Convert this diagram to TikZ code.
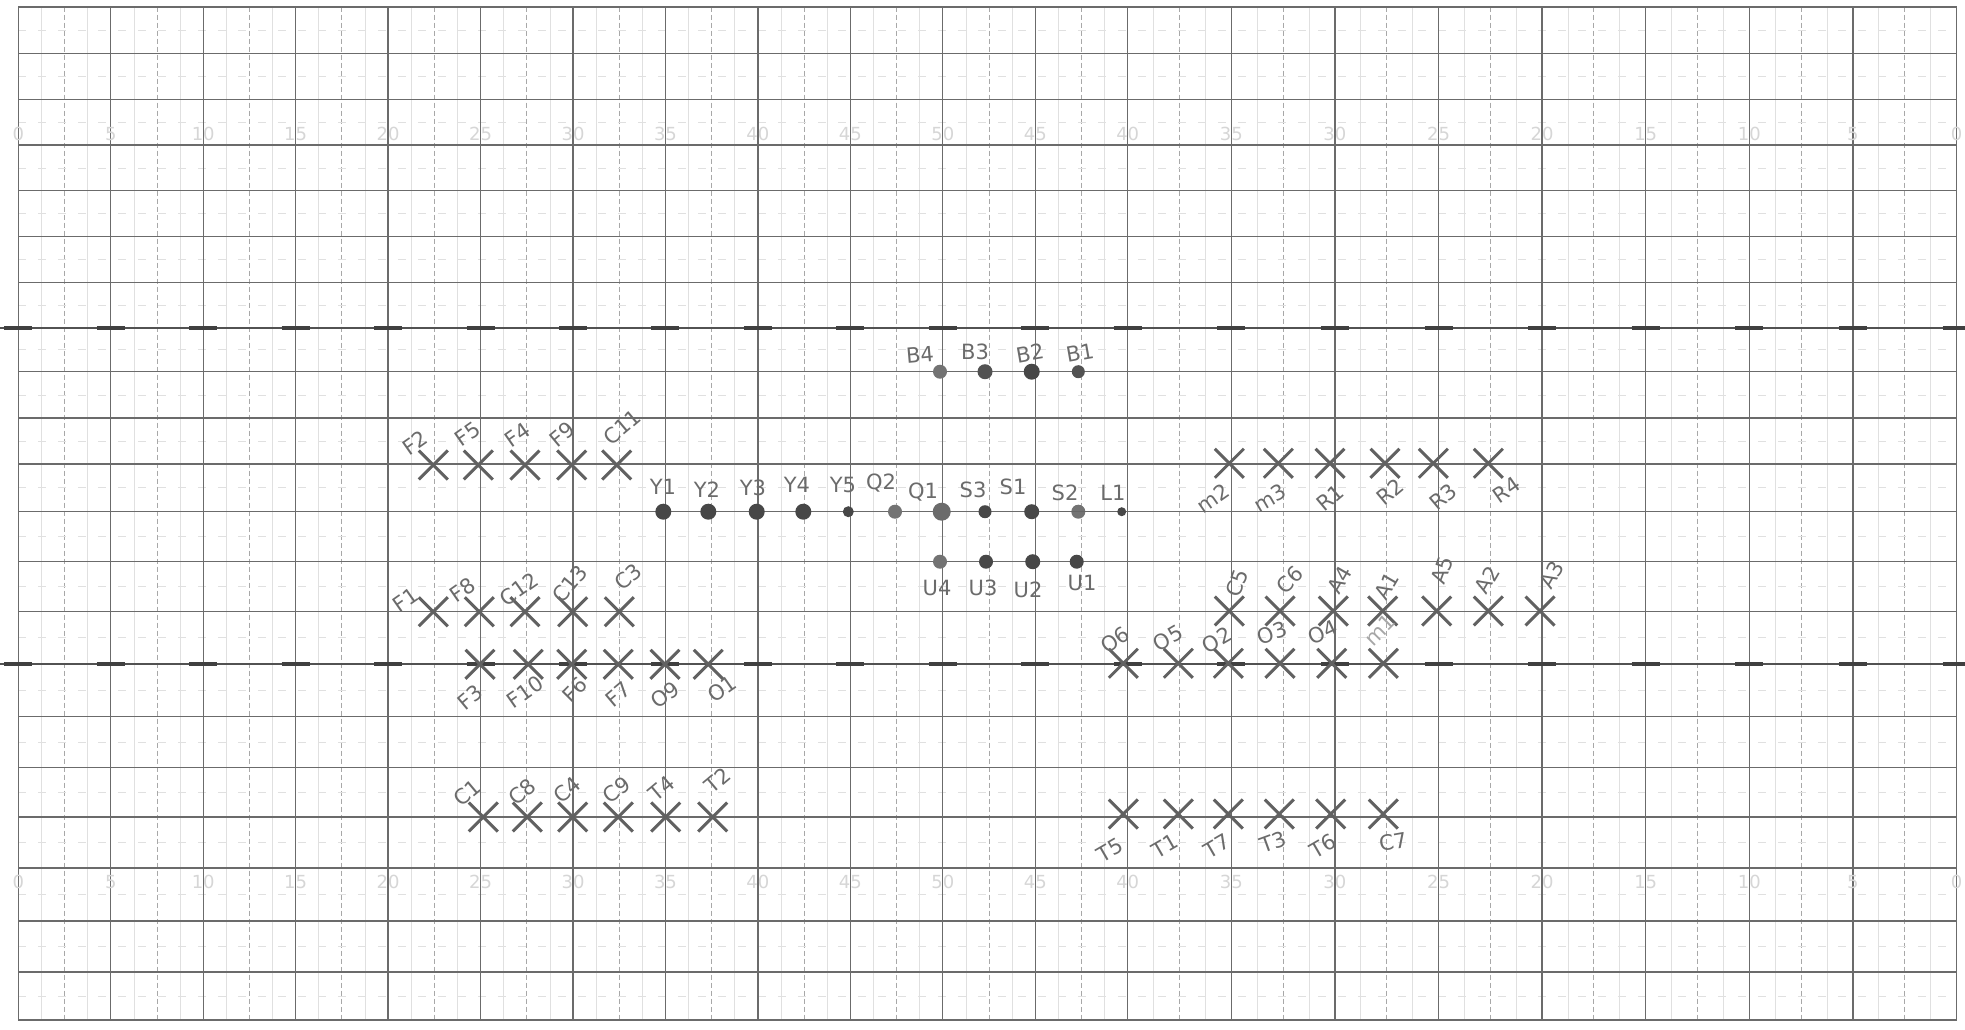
\documentclass[tikz,border=0pt]{standalone}
\usepackage{fontspec}
\setmainfont{DejaVu Sans}
\usetikzlibrary{shapes.misc}
\newcommand{\Xpt}[7]{\node[xmk] (#1) at (#2,#3) {}; \node[lbl,rotate=#7] (#1l) at (#5,#6) {#4};}
\newcommand{\Dpt}[9]{\node[dotmk=#8,fill=#9] (#1) at (#2,#3) {}; \node[lbl,rotate=#7] (#1l) at (#5,#6) {#4};}
\begin{document}
\begin{tikzpicture}[x=1pt,y=-1pt,
  gmajor/.style={draw=black!58,line width=1.3pt},
  ghalf/.style={draw=black!34,line width=0.9pt,dash pattern=on 5pt off 3pt},
  gquart/.style={draw=black!12,line width=0.7pt},
  ghmid/.style={draw=black!12,line width=0.7pt,dash pattern=on 8pt off 12pt},
  gheavy/.style={draw=black!68,line width=1.6pt},
  gtick/.style={draw=black!75,line width=4pt},
  scalenum/.style={text=black!16,font=\fontsize{18}{18}\selectfont,inner sep=0pt},
  xmk/.style={cross out,draw=black!62,line width=3pt,minimum size=26pt,inner sep=0pt},
  dotmk/.style={circle,inner sep=0pt,minimum size=#1},
  lbl/.style={text=black!58,font=\fontsize{21}{21}\selectfont,inner sep=0pt}]
\useasboundingbox (0,0) rectangle (1965,1029);
\fill[white] (0,0) rectangle (1965,1029);
% quarter and half vertical lines
\foreach \k in {0,...,19}{
  \pgfmathsetmacro\xa{\k<12 ? 18.3+92.45*\k : 1127.7+103.6*(\k-12)}
  \pgfmathsetmacro\w{\k<12 ? 92.45 : 103.6}
  \pgfmathsetmacro\qa{\xa+0.25*\w}
  \pgfmathsetmacro\qb{\xa+0.5*\w}
  \pgfmathsetmacro\qc{\xa+0.75*\w}
  \draw[gquart] (\qa,6.7) -- (\qa,1020);
  \draw[gquart] (\qc,6.7) -- (\qc,1020);
  \draw[ghalf] (\qb,6.7) -- (\qb,1020);
}
% half horizontal lines
\foreach \a/\b in {6.7/53.3,53.3/99.3,99.3/145,145/190.7,190.7/236.7,236.7/282.3,282.3/327.7,327.7/371.7,371.7/418,418/464,464/511.5,511.5/561.5,561.5/611.5,611.5/664,664/716.7,716.7/767.7,767.7/817,817/868,868/921,921/972,972/1020}{
  \pgfmathsetmacro\m{(\a+\b)/2}
  \draw[ghmid] (18.3,\m) -- (1956.5,\m);
}
% major horizontal lines
\foreach \y in {53.3,99.3,145,190.7,236.7,282.3,371.7,418,464,511.5,561.5,611.5,716.7,767.7,817,868,921,972}{
  \draw[gmajor] (18.3,\y) -- (1956.5,\y);
}
% major vertical lines
\foreach \k in {1,...,19}{
  \pgfmathsetmacro\xa{\k<12 ? 18.3+92.45*\k : 1127.7+103.6*(\k-12)}
  \draw[gmajor] (\xa,6.7) -- (\xa,1020);
}
\draw[gmajor,line width=1.6pt] (18.3,6.7) rectangle (1956.5,1020);
% heavy lines with ticks
\foreach \y in {327.7,664}{
  \draw[gheavy] (0,\y) -- (1965,\y);
  \foreach \k in {0,...,20}{
    \pgfmathsetmacro\xa{\k<12 ? 18.3+92.45*\k : 1127.7+103.6*(\k-12)}
    \draw[gtick] (\xa-14,\y) -- (\xa+14,\y);
  }
}
% faint scale numbers
\foreach \k/\n in {0/0,1/5,2/10,3/15,4/20,5/25,6/30,7/35,8/40,9/45,10/50,11/45,12/40,13/35,14/30,15/25,16/20,17/15,18/10,19/5,20/0}{
  \pgfmathsetmacro\xa{\k<12 ? 18.3+92.45*\k : 1127.7+103.6*(\k-12)}
  \node[scalenum] (nt\k) at (\xa,134) {\n};
  \node[scalenum] (nb\k) at (\xa,882) {\n};
}
% left group, row 1
\Xpt{F2}{433.3}{465}{F2}{415}{443}{35}
\Xpt{F5}{478.3}{465}{F5}{468}{434}{35}
\Xpt{F4}{525}{465}{F4}{518}{435}{35}
\Xpt{F9}{571.7}{465}{F9}{562}{434}{40}
\Xpt{C11}{616.7}{465}{C11}{622}{427}{40}
% row 2
\Xpt{F1}{433.3}{611.7}{F1}{406}{600}{35}
\Xpt{F8}{479.3}{611.7}{F8}{463}{590}{35}
\Xpt{C12}{525}{611.7}{C12}{519}{589}{35}
\Xpt{C13}{572.7}{611.7}{C13}{570}{584}{50}
\Xpt{C3}{619.3}{611.7}{C3}{628}{577}{40}
% row 3
\Xpt{F3}{480}{664.3}{F3}{470}{697}{40}
\Xpt{F10}{528.3}{664.3}{F10}{525}{692}{35}
\Xpt{F6}{571.7}{664.3}{F6}{575}{690}{45}
\Xpt{F7}{618.3}{664.3}{F7}{618}{694}{40}
\Xpt{O9}{665}{664.3}{O9}{665}{695}{35}
\Xpt{O1}{708.3}{664.3}{O1}{722}{689}{35}
% C row
\Xpt{C1}{483.3}{817}{C1}{467}{793}{40}
\Xpt{C8}{527.3}{817}{C8}{522}{792}{40}
\Xpt{C4}{572.7}{817}{C4}{567}{790}{40}
\Xpt{C9}{618.3}{817}{C9}{617}{790}{35}
\Xpt{T4}{665.7}{817}{T4}{662}{788}{40}
\Xpt{T2}{712.7}{817}{T2}{718}{780}{40}
% B row dots
\Dpt{B4}{940}{371.7}{B4}{920}{355}{5}{14pt}{black!55}
\Dpt{B3}{985}{371.7}{B3}{975}{352}{0}{15pt}{black!68}
\Dpt{B2}{1031.7}{371.7}{B2}{1030}{353}{10}{16pt}{black!72}
\Dpt{B1}{1078.3}{371.7}{B1}{1080}{353}{10}{13pt}{black!68}
% Y row dots
\Dpt{Y1}{663.3}{511.7}{Y1}{663}{487}{0}{16pt}{black!72}
\Dpt{Y2}{708.3}{511.7}{Y2}{707}{490}{0}{16pt}{black!72}
\Dpt{Y3}{756.7}{511.7}{Y3}{753}{488}{0}{16pt}{black!72}
\Dpt{Y4}{803.3}{511.7}{Y4}{797}{485}{0}{16pt}{black!72}
\Dpt{Y5}{848.3}{511.7}{Y5}{843}{485}{0}{11pt}{black!72}
\Dpt{Q2}{895}{511.7}{Q2}{881}{483}{0}{14pt}{black!55}
\Dpt{Q1}{941.7}{511.7}{Q1}{923}{492}{0}{18pt}{black!58}
\Dpt{S3}{985}{511.7}{S3}{973}{490}{0}{13pt}{black!72}
\Dpt{S1}{1031.7}{511.7}{S1}{1013}{487}{0}{15pt}{black!72}
\Dpt{S2}{1078.3}{511.7}{S2}{1065}{493}{0}{14pt}{black!55}
\Dpt{L1}{1121.7}{511.7}{L1}{1113}{493}{0}{9pt}{black!72}
\draw[black!60,line width=1.4pt] (S1) -- (L1);
% U row dots
\Dpt{U4}{940}{561.7}{U4}{937}{588}{0}{14pt}{black!55}
\Dpt{U3}{986}{561.7}{U3}{983}{588}{0}{14pt}{black!72}
\Dpt{U2}{1032.7}{561.7}{U2}{1028}{590}{0}{15pt}{black!72}
\Dpt{U1}{1076.7}{561.7}{U1}{1082}{583}{0}{14pt}{black!72}
% right group: m row
\Xpt{m2}{1229.3}{463.3}{m2}{1213}{498}{35}
\Xpt{m3}{1278.3}{463.3}{m3}{1270}{498}{30}
\Xpt{R1}{1330}{463.3}{R1}{1330}{498}{40}
\Xpt{R2}{1385}{463.3}{R2}{1390}{492}{40}
\Xpt{R3}{1433.3}{463.3}{R3}{1443}{497}{40}
\Xpt{R4}{1488.3}{463.3}{R4}{1507}{490}{35}
% C5 row
\Xpt{C5}{1229.3}{611}{C5}{1237}{583}{70}
\Xpt{C6}{1280}{611}{C6}{1290}{580}{45}
\Xpt{A4}{1333.3}{611}{A4}{1340}{580}{60}
\Xpt{A1}{1382.7}{611}{A1}{1387}{586}{60}
\Xpt{A5}{1436.7}{611}{A5}{1442}{570}{70}
\Xpt{A2}{1488.3}{611}{A2}{1487}{580}{60}
\Xpt{A3}{1540}{611}{A3}{1552}{575}{60}
% O row
\Xpt{O6}{1123.3}{663.3}{O6}{1115}{640}{35}
\Xpt{O5}{1178.3}{663.3}{O5}{1168}{638}{30}
\Xpt{O2}{1228.3}{663.3}{O2}{1217}{640}{30}
\Xpt{O3}{1280}{663.3}{O3}{1272}{633}{20}
\Xpt{O4}{1331.7}{663.3}{O4}{1323}{632}{25}
\node[xmk] (m1) at (1383.3,663.3) {};
\node[lbl,rotate=45,text=black!35] (m1l) at (1380,630) {m1};
% T row
\Xpt{T5}{1123.3}{814}{T5}{1110}{850}{30}
\Xpt{T1}{1178.3}{814}{T1}{1165}{846}{30}
\Xpt{T7}{1228.3}{814}{T7}{1217}{846}{30}
\Xpt{T3}{1279.3}{814}{T3}{1273}{842}{20}
\Xpt{T6}{1330.7}{814}{T6}{1323}{846}{30}
\Xpt{C7}{1383.3}{814}{C7}{1393}{842}{10}
\end{tikzpicture}
\end{document}
